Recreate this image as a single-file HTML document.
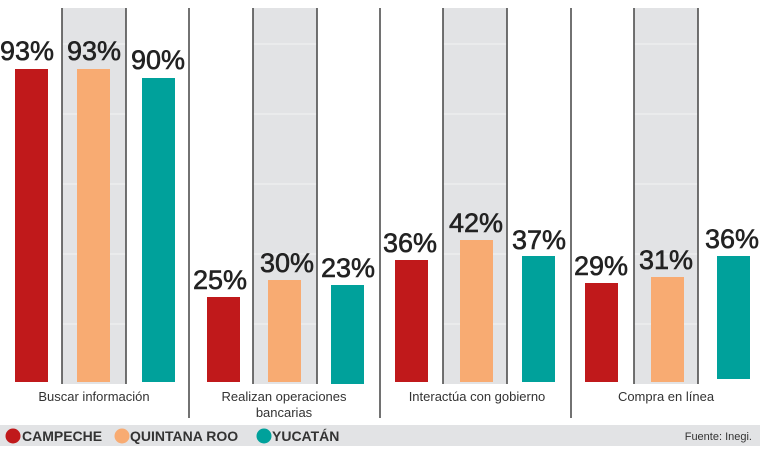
<!DOCTYPE html>
<html><head><meta charset="utf-8"><style>
html,body{margin:0;padding:0;background:#fff;}
svg{display:block;}
.v{font-family:"Liberation Sans",sans-serif;font-size:27px;font-weight:normal;fill:#222;stroke:#222;stroke-width:0.6;text-anchor:middle;}
.c{font-family:"Liberation Sans",sans-serif;font-size:13px;fill:#333;text-anchor:middle;}
.l{font-family:"Liberation Sans",sans-serif;font-size:14px;font-weight:bold;fill:#333;}
</style></head><body>
<svg width="768" height="457" viewBox="0 0 768 457">
<g fill="#e2e3e5">
<rect x="62" y="8" width="64" height="376"/>
<rect x="253" y="8" width="64" height="376"/>
<rect x="443" y="8" width="64" height="376"/>
<rect x="634" y="8" width="64" height="376"/>
</g>
<g stroke="#f3f3f4" stroke-width="1">
<line x1="62" y1="44" x2="768" y2="44"/><line x1="62" y1="114" x2="768" y2="114"/><line x1="62" y1="184" x2="768" y2="184"/><line x1="62" y1="254" x2="768" y2="254"/><line x1="62" y1="324" x2="768" y2="324"/>
</g>
<g stroke="#fff" stroke-width="2">
<line x1="126" y1="44" x2="253" y2="44"/><line x1="317" y1="44" x2="443" y2="44"/><line x1="507" y1="44" x2="634" y2="44"/><line x1="698" y1="44" x2="768" y2="44"/>
<line x1="126" y1="114" x2="253" y2="114"/><line x1="317" y1="114" x2="443" y2="114"/><line x1="507" y1="114" x2="634" y2="114"/><line x1="698" y1="114" x2="768" y2="114"/>
<line x1="126" y1="184" x2="253" y2="184"/><line x1="317" y1="184" x2="443" y2="184"/><line x1="507" y1="184" x2="634" y2="184"/><line x1="698" y1="184" x2="768" y2="184"/>
<line x1="126" y1="254" x2="253" y2="254"/><line x1="317" y1="254" x2="443" y2="254"/><line x1="507" y1="254" x2="634" y2="254"/><line x1="698" y1="254" x2="768" y2="254"/>
<line x1="126" y1="324" x2="253" y2="324"/><line x1="317" y1="324" x2="443" y2="324"/><line x1="507" y1="324" x2="634" y2="324"/><line x1="698" y1="324" x2="768" y2="324"/>
</g>
<g stroke="#444" stroke-width="1.5">
<line x1="62" y1="8" x2="62" y2="384"/><line x1="126" y1="8" x2="126" y2="384"/>
<line x1="253" y1="8" x2="253" y2="384"/><line x1="317" y1="8" x2="317" y2="384"/>
<line x1="443" y1="8" x2="443" y2="384"/><line x1="507" y1="8" x2="507" y2="384"/>
<line x1="634" y1="8" x2="634" y2="384"/><line x1="698" y1="8" x2="698" y2="384"/>
<line x1="189" y1="8" x2="189" y2="418"/><line x1="380" y1="8" x2="380" y2="418"/><line x1="571" y1="8" x2="571" y2="418"/>
</g>
<g>
<rect x="15" y="69" width="33" height="313" fill="#c0191b"/>
<rect x="77" y="69" width="33" height="313" fill="#f8ab72"/>
<rect x="142" y="78" width="33" height="304" fill="#00a19b"/>
<rect x="207" y="297" width="33" height="85" fill="#c0191b"/>
<rect x="268" y="280" width="33" height="102" fill="#f8ab72"/>
<rect x="331" y="285" width="33" height="99" fill="#00a19b"/>
<rect x="395" y="260" width="33" height="122" fill="#c0191b"/>
<rect x="460" y="240" width="33" height="142" fill="#f8ab72"/>
<rect x="522" y="256" width="33" height="126" fill="#00a19b"/>
<rect x="585" y="283" width="33" height="99" fill="#c0191b"/>
<rect x="651" y="277" width="33" height="105" fill="#f8ab72"/>
<rect x="717" y="256" width="33" height="123" fill="#00a19b"/>
</g>
<g>
<text x="27" y="60" class="v">93%</text>
<text x="94" y="60" class="v">93%</text>
<text x="158" y="69" class="v">90%</text>
<text x="220" y="289" class="v">25%</text>
<text x="287" y="272" class="v">30%</text>
<text x="348" y="277" class="v">23%</text>
<text x="410" y="252" class="v">36%</text>
<text x="476" y="232" class="v">42%</text>
<text x="539" y="249" class="v">37%</text>
<text x="601" y="275" class="v">29%</text>
<text x="666" y="269" class="v">31%</text>
<text x="732" y="248" class="v">36%</text>
</g>
<text x="94" y="401" class="c">Buscar información</text>
<text x="284" y="401" class="c">Realizan operaciones</text>
<text x="284" y="417" class="c">bancarias</text>
<text x="477" y="401" class="c">Interactúa con gobierno</text>
<text x="666" y="401" class="c">Compra en línea</text>
<rect x="0" y="425" width="760" height="21" fill="#e2e3e5"/>
<circle cx="13" cy="436" r="7.5" fill="#c0191b"/>
<text x="22" y="441" class="l">CAMPECHE</text>
<circle cx="122" cy="436" r="7.5" fill="#f8ab72"/>
<text x="130" y="441" class="l">QUINTANA ROO</text>
<circle cx="264" cy="436" r="7.5" fill="#00a19b"/>
<text x="272" y="441" class="l">YUCATÁN</text>
<text x="752" y="440" style="font-family:'Liberation Sans',sans-serif;font-size:11px;fill:#333;text-anchor:end">Fuente: Inegi.</text>
</svg>
</body></html>
